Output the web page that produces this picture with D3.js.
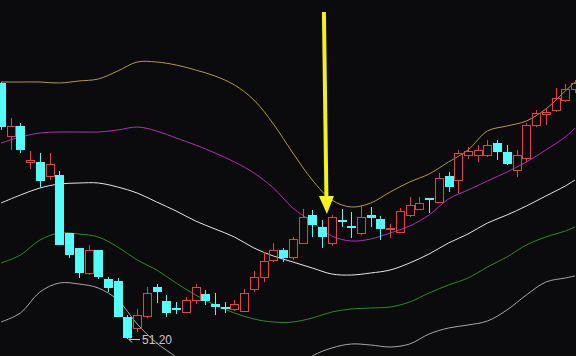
<!DOCTYPE html>
<html>
<head>
<meta charset="utf-8">
<script src="https://cdn.jsdelivr.net/npm/d3@7"></script>
<style>
  html, body { margin: 0; padding: 0; background: #0b0a0c; }
  svg { display: block; }
</style>
</head>
<body>
<div id="chart"></div>
<script>
// daily candles (price)
var opens  = [64.00,61.35,61.85,60.05,60.05,59.35,59.40,56.50,55.75,54.50,55.65,54.20,54.10,52.30,51.75,52.35,53.80,53.10,52.75,52.55,
              53.15,53.45,52.95,52.80,52.70,52.60,53.70,54.30,55.15,55.65,55.30,56.00,57.40,56.80,56.00,57.15,56.85,56.50,57.40,57.20,
              56.70,56.55,57.40,57.70,58.25,58.05,59.35,59.15,60.40,60.40,60.40,61.00,60.55,59.65,60.25,61.90,62.45,62.65,63.15,63.70];
var highs  = [64.05,62.25,62.00,60.60,60.50,60.50,59.60,56.50,55.75,55.90,55.65,54.30,54.25,52.40,52.70,53.80,53.95,53.40,53.05,53.30,
              53.95,53.65,53.50,53.05,53.15,53.70,54.60,55.55,56.00,55.75,56.30,57.70,57.65,57.15,57.40,57.70,57.55,57.90,57.80,57.35,
              56.95,57.75,58.30,58.30,58.25,59.50,59.55,60.65,60.80,60.90,61.15,61.15,60.90,60.65,62.00,62.65,62.70,63.75,63.95,64.15];
var lows   = [61.65,60.65,60.50,59.70,58.80,59.15,55.90,55.25,54.25,54.40,54.20,53.55,52.30,51.20,51.55,52.25,53.00,52.30,52.45,52.50,
              52.95,52.90,52.40,52.50,52.60,52.55,53.55,54.05,55.05,55.05,55.15,55.95,56.30,55.75,55.85,56.80,56.25,56.40,56.80,56.15,
              56.25,56.50,57.30,57.65,57.50,58.00,58.55,58.50,60.20,60.05,60.30,60.15,59.90,59.30,60.05,61.80,61.90,62.55,63.05,63.50];
var closes = [61.80,61.85,60.65,60.15,59.10,59.95,55.90,55.40,54.50,55.65,54.30,53.75,52.30,51.25,52.40,53.50,53.55,52.50,52.70,53.15,
              53.80,53.10,52.80,52.75,52.95,53.50,54.30,55.10,55.65,55.25,56.20,57.30,56.90,56.30,57.30,57.10,56.75,57.30,57.25,56.70,
              56.75,57.60,57.90,58.00,58.15,59.25,58.80,60.50,60.60,60.65,60.90,60.55,59.95,60.40,61.90,62.50,62.55,63.25,63.70,64.00];

// band lines, sampled at these candle positions
var bandIdx = [0,2,4,6,8,10,12,14,16,18,20,22,24,26,28,30,32,34,36,38,40,42,44,46,48,50,52,54,56,58,59];
var upper2 = [64.05,64.05,64.05,64.00,64.10,64.20,64.60,65.05,65.05,64.90,64.65,64.35,63.90,63.15,61.95,60.50,
              59.15,58.15,57.80,58.00,58.55,59.05,59.45,60.05,60.65,61.60,61.85,62.10,62.70,63.60,64.05];
var upper1 = [61.00,61.30,61.50,61.55,61.55,61.55,61.65,61.80,61.60,61.25,60.90,60.50,60.05,59.50,58.75,57.75,
              57.05,56.35,56.10,56.20,56.50,56.85,57.40,58.20,58.65,59.10,59.55,60.05,60.65,61.30,61.75];
var middle = [58.00,58.40,58.75,58.95,59.00,59.00,58.80,58.50,58.05,57.60,57.10,56.70,56.30,55.75,55.35,55.05,
              54.75,54.45,54.40,54.50,54.65,55.00,55.45,56.00,56.45,57.00,57.40,57.85,58.35,58.85,59.15];
var lower1 = [55.00,55.40,56.15,56.50,56.45,56.30,55.80,55.15,54.65,54.00,53.40,52.90,52.50,52.20,52.05,52.05,
              52.25,52.55,52.70,52.75,52.80,53.05,53.50,53.90,54.25,54.80,55.30,55.90,56.30,56.60,56.80];
var lower2 = [52.05,52.50,53.55,54.00,53.95,53.75,53.15,51.95,51.00,50.30,49.55,49.05,48.70,48.35,48.75,49.60,
              50.35,50.75,50.95,50.90,50.80,50.95,51.45,51.75,51.90,52.10,52.65,53.40,54.05,54.25,54.35];
var bandColors = ["#b49a48", "#b030b4", "#e6e6e6", "#2f8a2f", "#a8a8a8"];

var lowLabel = "51.20";
var arrowAt = 33.5;     // between these two candles
var arrowPrice = 57.45;

var W = 576, H = 356;
var upColor = "#e04444", downColor = "#54fcfc";

var svg = d3.select("#chart").append("svg")
  .attr("width", W).attr("height", H)
  .style("background", "#0b0a0c");

var xs = d3.scaleLinear().domain([0, 59]).range([1, 575]);
var ys = d3.scaleLinear().domain([50.35, 68.15]).range([H, 0]);

// bands
var line = d3.line()
  .x(function(d) { return xs(d[0]); })
  .y(function(d) { return ys(d[1]); })
  .curve(d3.curveCatmullRom);

[upper2, upper1, middle, lower1, lower2].forEach(function(band, k) {
  svg.append("path")
    .datum(bandIdx.map(function(idx, j) { return [idx, band[j]]; }))
    .attr("d", line)
    .attr("fill", "none")
    .attr("stroke", bandColors[k])
    .attr("stroke-width", 1);
});

// candles
var candles = opens.map(function(o, i) {
  return {i: i, o: o, h: highs[i], l: lows[i], c: closes[i]};
});

var g = svg.append("g").selectAll("g").data(candles).join("g");

g.each(function(d) {
  var sel = d3.select(this);
  var cx = Math.round(xs(d.i)) + 0.5;
  var left = Math.round(xs(d.i)) - 4;
  var up = d.c > d.o;
  var top = ys(Math.max(d.o, d.c)), bot = ys(Math.min(d.o, d.c));
  if (up) {
    sel.append("line")
      .attr("x1", cx).attr("x2", cx)
      .attr("y1", ys(d.h)).attr("y2", top)
      .attr("stroke", upColor);
    sel.append("line")
      .attr("x1", cx).attr("x2", cx)
      .attr("y1", bot).attr("y2", ys(d.l))
      .attr("stroke", upColor);
    sel.append("rect")
      .attr("x", left + 0.5).attr("y", Math.round(top) + 0.5)
      .attr("width", 8).attr("height", Math.max(1, Math.round(bot - top)))
      .attr("fill", "none")
      .attr("stroke", upColor);
  } else {
    sel.append("line")
      .attr("x1", cx).attr("x2", cx)
      .attr("y1", ys(d.h)).attr("y2", ys(d.l))
      .attr("stroke", downColor);
    sel.append("rect")
      .attr("x", left).attr("y", Math.round(top))
      .attr("width", 9).attr("height", Math.max(2, Math.round(bot - top)))
      .attr("fill", downColor);
  }
});

// lowest price marker
var lowI = d3.minIndex(lows);
var lx = Math.round(xs(lowI)) + 2, ly = Math.round(ys(lows[lowI])) + 0.5;
svg.append("path")
  .attr("d", "M" + lx + "," + ly + "h11M" + lx + "," + ly + "l3,-3M" + lx + "," + ly + "l3,3")
  .attr("stroke", "#c8c8c8")
  .attr("fill", "none");
svg.append("text")
  .attr("x", lx + 13).attr("y", ly + 4.5)
  .attr("fill", "#c8c8c8")
  .attr("font-family", "Arial, 'Liberation Sans', sans-serif")
  .attr("font-size", 12)
  .text(lowLabel);

// yellow arrow
var ax = xs(arrowAt), ay = ys(arrowPrice);
svg.append("line")
  .attr("x1", ax - 3).attr("y1", 12)
  .attr("x2", ax - 0.5).attr("y2", ay - 16)
  .attr("stroke", "#f4f01a")
  .attr("stroke-width", 4);
svg.append("path")
  .attr("d", "M" + (ax - 8) + "," + (ay - 18) + "L" + (ax + 7) + "," + (ay - 18) + "L" + ax + "," + ay + "Z")
  .attr("fill", "#f4f01a");
</script>
</body>
</html>
